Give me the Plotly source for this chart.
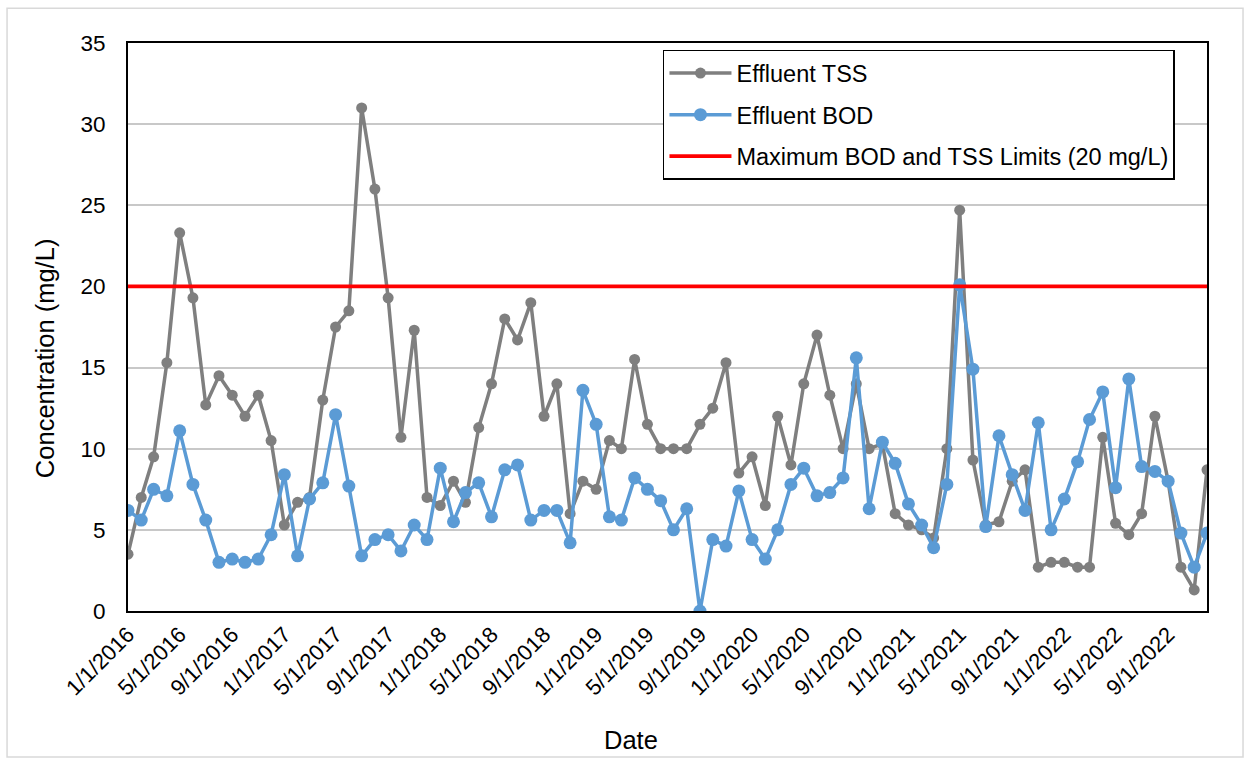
import plotly.graph_objects as go
import pandas as pd

# Monthly sampling dates, Jan 2016 - Dec 2022
dates = pd.date_range("2016-01-01", "2022-12-01", freq="MS")

# Effluent total suspended solids (mg/L)
tss = [3.5, 7.0, 9.5, 15.3, 23.3, 19.3, 12.7, 14.5, 13.3, 12.0, 13.3, 10.5,
       5.3, 6.7, 7.0, 13.0, 17.5, 18.5, 31.0, 26.0, 19.3, 10.7, 17.3, 7.0,
       6.5, 8.0, 6.7, 11.3, 14.0, 18.0, 16.7, 19.0, 12.0, 14.0, 6.0, 8.0,
       7.5, 10.5, 10.0, 15.5, 11.5, 10.0, 10.0, 10.0, 11.5, 12.5, 15.3, 8.5,
       9.5, 6.5, 12.0, 9.0, 14.0, 17.0, 13.3, 10.0, 14.0, 10.0, 10.3, 6.0,
       5.3, 5.0, 4.5, 10.0, 24.7, 9.3, 5.3, 5.5, 8.0, 8.7, 2.7, 3.0,
       3.0, 2.7, 2.7, 10.7, 5.4, 4.7, 6.0, 12.0, 8.0, 2.7, 1.3, 8.7]

# Effluent biochemical oxygen demand (mg/L)
bod = [6.2, 5.6, 7.5, 7.1, 11.1, 7.8, 5.6, 3.0, 3.2, 3.0, 3.2, 4.7,
       8.4, 3.4, 6.9, 7.9, 12.1, 7.7, 3.4, 4.4, 4.7, 3.7, 5.3, 4.4,
       8.8, 5.5, 7.3, 7.9, 5.8, 8.7, 9.0, 5.6, 6.2, 6.2, 4.2, 13.6,
       11.5, 5.8, 5.6, 8.2, 7.5, 6.8, 5.0, 6.3, 0.0, 4.4, 4.0, 7.4,
       4.4, 3.2, 5.0, 7.8, 8.8, 7.1, 7.3, 8.2, 15.6, 6.3, 10.4, 9.1,
       6.6, 5.3, 3.9, 7.8, 20.1, 14.9, 5.2, 10.8, 8.4, 6.2, 11.6, 5.0,
       6.9, 9.2, 11.8, 13.5, 7.6, 14.3, 8.9, 8.6, 8.0, 4.8, 2.7, 4.8]

# Permit limit for both BOD and TSS (mg/L)
limit = [20.0] * len(dates)

# Axis tick positions: every four months
tick_dates = pd.date_range("2016-01-01", "2022-09-01", freq="4MS")
tick_labels = [f"{d.month}/{d.day}/{d.year}" for d in tick_dates]

FONT = "Arial, Liberation Sans, sans-serif"

fig = go.Figure()
fig.add_trace(go.Scatter(
    x=dates, y=tss, name="Effluent TSS", mode="lines+markers",
    legendgroup="tss",
    line=dict(color="#7f7f7f", width=3.5),
    marker=dict(color="#7f7f7f", size=11, symbol="circle"),
))
fig.add_trace(go.Scatter(
    x=dates, y=bod, name="Effluent BOD", mode="lines+markers",
    legendgroup="bod",
    line=dict(color="#5b9bd5", width=3.5),
    marker=dict(color="#5b9bd5", size=13, symbol="circle"),
))
fig.add_trace(go.Scatter(
    x=dates, y=limit, name="Maximum BOD and TSS Limits (20 mg/L)",
    mode="lines", legendgroup="limit",
    line=dict(color="#ff0000", width=3.8),
))

fig.update_layout(
    width=1250, height=763,
    margin=dict(l=128, r=43, t=43, b=152),
    paper_bgcolor="white", plot_bgcolor="white",
    font=dict(family=FONT, size=22, color="black"),
    showlegend=True,
    legend=dict(
        x=0.4958, y=0.988, xanchor="left", yanchor="top",
        bgcolor="white", bordercolor="black", borderwidth=1.5,
        font=dict(family=FONT, size=23.5, color="black"),
        tracegroupgap=8, itemwidth=62,
    ),
    xaxis=dict(
        type="date",
        range=[dates[0], dates[-1]],
        tickvals=tick_dates, ticktext=tick_labels,
        tickangle=-45, tickfont=dict(family=FONT, size=22, color="black"),
        showgrid=False, zeroline=False,
        showline=True, linecolor="black", linewidth=2, mirror=True,
        ticks="",
    ),
    yaxis=dict(
        range=[0, 35], dtick=5, tick0=0,
        tickfont=dict(family=FONT, size=22.5, color="black"),
        showgrid=True, gridcolor="#c8c8c8", gridwidth=1.5,
        zeroline=False,
        showline=True, linecolor="black", linewidth=2, mirror=True,
        ticks="", ticklabelstandoff=16,
    ),
    annotations=[
        dict(text="Date", xref="paper", yref="paper", x=0.4662, y=-0.227,
             xanchor="center", yanchor="middle", showarrow=False,
             font=dict(family=FONT, size=25.5, color="black")),
        dict(text="Concentration (mg/L)", xref="paper", yref="paper",
             x=-0.0769, y=0.4452, xanchor="center", yanchor="middle",
             textangle=-90, showarrow=False,
             font=dict(family=FONT, size=25.5, color="black")),
    ],
    shapes=[
        dict(type="rect", xref="paper", yref="paper",
             x0=-0.1121, x1=1.0334, y0=-0.257, y1=1.061,
             line=dict(color="#d9d9d9", width=1.5), fillcolor="rgba(0,0,0,0)",
             layer="below"),
    ],
)

fig.write_html("out.html")
